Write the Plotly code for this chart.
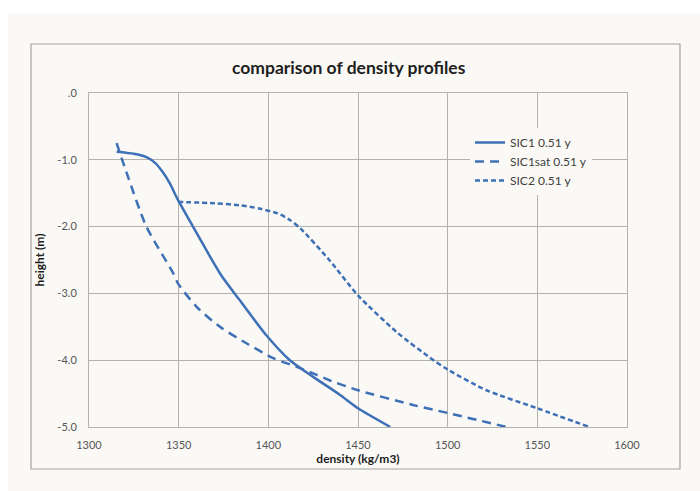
import plotly.graph_objects as go

# ---- data ----
sic1_density = [1315.4, 1325, 1332, 1337, 1341, 1345, 1349.6, 1358, 1366, 1374, 1384, 1399, 1412, 1425, 1440, 1450, 1468]
sic1_height = [-0.88, -0.91, -0.96, -1.05, -1.18, -1.35, -1.60, -2.00, -2.38, -2.74, -3.10, -3.63, -4.00, -4.25, -4.52, -4.72, -5.00]

sat_density = [1315.4, 1321.7, 1332, 1347, 1349.6, 1360, 1373, 1388, 1402.8, 1415.8, 1427, 1434, 1450, 1480.7, 1500, 1533]
sat_height = [-0.75, -1.25, -2.00, -2.70, -2.85, -3.20, -3.50, -3.75, -3.97, -4.10, -4.22, -4.30, -4.45, -4.67, -4.79, -5.00]

sic2_density = [1349.6, 1370, 1384, 1395, 1405, 1412, 1418, 1434, 1450, 1471.6, 1490, 1500, 1521.7, 1550, 1579]
sic2_height = [-1.63, -1.65, -1.68, -1.73, -1.80, -1.90, -2.03, -2.50, -3.03, -3.58, -3.96, -4.14, -4.45, -4.72, -5.00]

x_ticks = [1300, 1350, 1400, 1450, 1500, 1550, 1600]
y_ticks = [0, -1, -2, -3, -4, -5]
y_ticktext = [".0", "-1.0", "-2.0", "-3.0", "-4.0", "-5.0"]

series_names = ["SIC1 0.51 y", "SIC1sat 0.51 y", "SIC2 0.51 y"]

# ---- styling ----
W, H = 700, 491
L, R, T, B = 89, 627, 93, 427
BG = "#fbf9f6"
LINE = "#3e70b6"
GRID = "#b4b2b0"
FONT = "Lato"

def px(x):
    return (x - L) / (R - L)

def py(y):
    return (B - y) / (B - T)

fig = go.Figure()
fig.add_trace(go.Scatter(x=sic1_density, y=sic1_height, mode="lines", name=series_names[0],
                         line=dict(color=LINE, width=2.5, shape="spline", smoothing=0.7)))
fig.add_trace(go.Scatter(x=sat_density, y=sat_height, mode="lines", name=series_names[1],
                         line=dict(color=LINE, width=2.5, dash="9px,6px", shape="spline", smoothing=0.7)))
fig.add_trace(go.Scatter(x=sic2_density, y=sic2_height, mode="lines", name=series_names[2],
                         line=dict(color=LINE, width=2.5, dash="5px,3px", shape="spline", smoothing=0.7)))

shapes = [
    dict(type="rect", xref="paper", yref="paper", x0=px(8), x1=px(700), y0=py(14), y1=py(491),
         fillcolor=BG, line=dict(width=0), layer="below"),
    dict(type="rect", xref="paper", yref="paper", x0=px(31), x1=px(680), y0=py(44), y1=py(469),
         fillcolor="rgba(0,0,0,0)", line=dict(color="#a5a3a1", width=1.2), layer="below"),
]

fig.update_layout(
    width=W, height=H,
    margin=dict(l=L, r=W - R, t=T, b=H - B),
    paper_bgcolor="white",
    plot_bgcolor=BG,
    shapes=shapes,
    font=dict(family=FONT, size=11, color="#555555"),
    title=dict(text="<b>comparison of density profiles</b>", x=px(357), xanchor="center",
               y=1 - 68 / H, yanchor="middle", font=dict(family=FONT, size=17.5, color="#1e1e1e")),
    showlegend=True,
    legend=dict(x=px(470), y=py(128), xanchor="left", yanchor="top", bgcolor=BG,
                font=dict(family=FONT, size=12, color="#404040"), tracegroupgap=0,
                itemwidth=30),
    xaxis=dict(range=[1300, 1600], tickvals=x_ticks, showgrid=True, gridcolor=GRID, gridwidth=1,
               showline=True, linecolor=GRID, linewidth=1, mirror=True, zeroline=False,
               ticks="", ticklabelstandoff=8,
               title=dict(text="<b>density (kg/m3)</b>", font=dict(family=FONT, size=12, color="#1e1e1e"),
                          standoff=2)),
    yaxis=dict(range=[-5, 0], tickvals=y_ticks, ticktext=y_ticktext, showgrid=True, gridcolor=GRID,
               gridwidth=1, showline=True, linecolor=GRID, linewidth=1, mirror=True, zeroline=False,
               ticks="", ticklabelstandoff=9,
               title=dict(text="<b>height (m)</b>", font=dict(family=FONT, size=12, color="#1e1e1e"),
                          standoff=10)),
)

fig.write_html("out.html")
